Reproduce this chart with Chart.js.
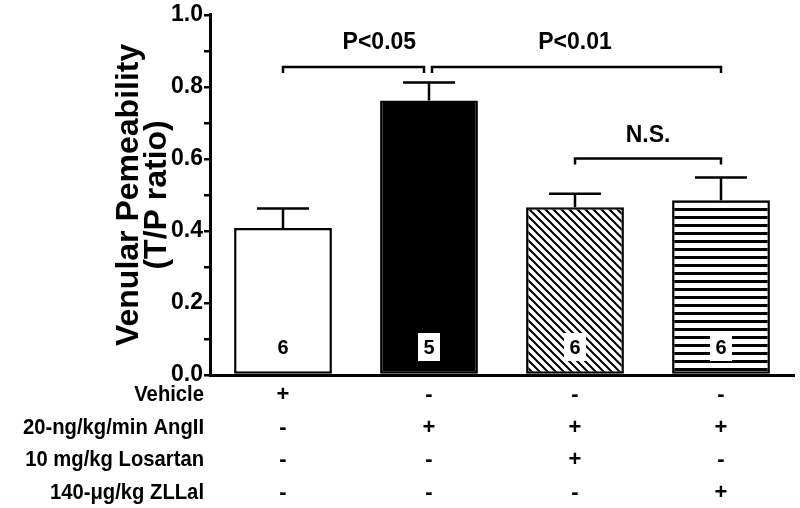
<!DOCTYPE html>
<html>
<head>
<meta charset="utf-8">
<script src="https://cdn.jsdelivr.net/npm/chart.js@4/dist/chart.umd.min.js"></script>
<style>
  html, body { margin: 0; padding: 0; background: #fff; }
  #wrap { width: 800px; height: 508px; }
</style>
</head>
<body>
<div id="wrap"><canvas id="myChart" width="800" height="508"></canvas></div>
<script>
// Dades llegides de la figura
const groups = ['Vehicle', 'AngII', 'AngII + Losartan', 'AngII + ZLLal'];
const means = [0.408, 0.762, 0.466, 0.485];
const sems = [0.054, 0.050, 0.037, 0.063];
const counts = ['6', '5', '6', '6'];

// Taula de tractaments sota l'eix
const rowLabels = ['Vehicle', '20-ng/kg/min AngII', '10 mg/kg Losartan', '140-\u03BCg/kg ZLLal'];
const rowMarks = [
    ['+', '-', '-', '-'],
    ['-', '+', '+', '+'],
    ['-', '-', '+', '-'],
    ['-', '-', '-', '+']
];

// Claudàtors de significació: des de, fins a, nivell
const bracketFrom = [0, 1, 2];
const bracketTo = [1, 3, 3];
const bracketLevel = [0.855, 0.855, 0.601];
// Textos de significació: text, posició (índex de categoria) i nivell
const sigText = ['P<0.05', 'P<0.01', 'N.S.'];
const sigPos = [0.66, 2.0, 2.5];
const sigLevel = [0.922, 0.922, 0.665];

const FONT = '"Liberation Sans", Arial, sans-serif';

// Patrons de farciment
const makeDiagonal = () => {
    const c = document.createElement('canvas');
    c.width = 8; c.height = 8;
    const g = c.getContext('2d');
    g.fillStyle = '#fff';
    g.fillRect(0, 0, 8, 8);
    g.strokeStyle = '#000';
    g.lineWidth = 2;
    g.beginPath();
    g.moveTo(-2, -2); g.lineTo(10, 10);
    g.moveTo(-2, 6); g.lineTo(2, 10);
    g.moveTo(6, -2); g.lineTo(10, 2);
    g.stroke();
    return g.createPattern(c, 'repeat');
};

const makeHorizontal = () => {
    const c = document.createElement('canvas');
    c.width = 8; c.height = 8;
    const g = c.getContext('2d');
    g.fillStyle = '#fff';
    g.fillRect(0, 0, 8, 8);
    g.fillStyle = '#000';
    g.fillRect(0, 0, 8, 3);
    return g.createPattern(c, 'repeat');
};

const fills = ['#ffffff', '#000000', makeDiagonal(), makeHorizontal()];

// Barres d'error (només cap amunt)
const errorBars = {
    id: 'errorBars',
    afterDatasetsDraw(chart) {
        const ctx = chart.ctx;
        const y = chart.scales.y;
        const meta = chart.getDatasetMeta(0);
        ctx.save();
        ctx.strokeStyle = '#000';
        ctx.lineWidth = 2.5;
        meta.data.forEach((bar, i) => {
            const top = y.getPixelForValue(means[i]);
            const end = y.getPixelForValue(means[i] + sems[i]);
            ctx.beginPath();
            ctx.moveTo(bar.x, top);
            ctx.lineTo(bar.x, end);
            ctx.moveTo(bar.x - 26, end);
            ctx.lineTo(bar.x + 26, end);
            ctx.stroke();
        });
        ctx.restore();
    }
};

// Nombre d'animals dins de cada barra
const countLabels = {
    id: 'countLabels',
    afterDatasetsDraw(chart) {
        const ctx = chart.ctx;
        const meta = chart.getDatasetMeta(0);
        const yPos = chart.chartArea.bottom - 28;
        ctx.save();
        ctx.font = 'bold 20px ' + FONT;
        ctx.textAlign = 'center';
        ctx.textBaseline = 'middle';
        meta.data.forEach((bar, i) => {
            ctx.fillStyle = '#fff';
            ctx.fillRect(bar.x - 11, yPos - 14, 22, 28);
            ctx.fillStyle = '#000';
            ctx.fillText(counts[i], bar.x, yPos + 1);
        });
        ctx.restore();
    }
};

// Claudàtors i textos de significació
const significance = {
    id: 'significance',
    afterDraw(chart) {
        const ctx = chart.ctx;
        const x = chart.scales.x;
        const y = chart.scales.y;
        ctx.save();
        ctx.strokeStyle = '#000';
        ctx.lineWidth = 2.5;
        bracketFrom.forEach((from, i) => {
            let x1 = x.getPixelForValue(from);
            let x2 = x.getPixelForValue(bracketTo[i]);
            // els dos claudàtors que comparteixen la barra 2 es deixen un petit espai
            if (i === 0) x2 -= 5;
            if (i === 1) x1 += 3;
            const yy = y.getPixelForValue(bracketLevel[i]);
            ctx.beginPath();
            ctx.moveTo(x1, yy + 6);
            ctx.lineTo(x1, yy);
            ctx.lineTo(x2, yy);
            ctx.lineTo(x2, yy + 6);
            ctx.stroke();
        });
        ctx.fillStyle = '#000';
        ctx.font = 'bold 23px ' + FONT;
        ctx.textAlign = 'center';
        ctx.textBaseline = 'middle';
        sigText.forEach((t, i) => {
            const px = x.getPixelForValue(0) + sigPos[i] * (x.getPixelForValue(1) - x.getPixelForValue(0));
            ctx.fillText(t, px, y.getPixelForValue(sigLevel[i]));
        });
        ctx.restore();
    }
};

// Taula de +/- sota l'eix X
const treatmentTable = {
    id: 'treatmentTable',
    afterDraw(chart) {
        const ctx = chart.ctx;
        const x = chart.scales.x;
        const base = chart.chartArea.bottom;
        ctx.save();
        ctx.fillStyle = '#000';
        ctx.font = 'bold 22px ' + FONT;
        ctx.textBaseline = 'middle';
        rowLabels.forEach((label, r) => {
            const yy = base + 20 + r * 32.5;
            // lletra una mica estreta, com a l'original
            ctx.save();
            ctx.translate(204, yy);
            ctx.scale(0.92, 1);
            ctx.textAlign = 'right';
            ctx.fillText(label, 0, 0);
            ctx.restore();
            ctx.textAlign = 'center';
            rowMarks[r].forEach((m, c) => {
                ctx.fillText(m, x.getPixelForValue(c), yy);
            });
        });
        ctx.restore();
    }
};

const ctx = document.getElementById('myChart').getContext('2d');
const chart = new Chart(ctx, {
    type: 'bar',
    data: {
        labels: groups,
        datasets: [{
            data: means,
            backgroundColor: fills,
            borderColor: '#000',
            borderWidth: 2.5,
            borderSkipped: false,
            categoryPercentage: 1.0,
            barPercentage: 0.67
        }]
    },
    options: {
        responsive: false,
        animation: false,
        events: [],
        layout: { padding: { top: 14, right: 6, bottom: 133, left: 0 } },
        plugins: {
            legend: { display: false },
            tooltip: { enabled: false }
        },
        scales: {
            x: {
                grid: { display: false, drawTicks: false },
                border: { display: true, color: '#000', width: 3 },
                ticks: { display: false }
            },
            y: {
                min: 0,
                max: 1.0,
                afterFit(scale) { scale.width = 210; },
                ticks: {
                    stepSize: 0.1,
                    color: '#000',
                    padding: 1,
                    font: { family: FONT, size: 23, weight: 'bold' },
                    callback: (v) => (Math.round(v * 10) % 2 === 0 ? v.toFixed(1) : '')
                },
                grid: {
                    drawOnChartArea: false,
                    drawTicks: true,
                    tickLength: 6,
                    color: '#000',
                    lineWidth: 2.5
                },
                border: { display: true, color: '#000', width: 3 },
                title: {
                    display: true,
                    text: ['Venular Pemeability', '(T/P ratio)'],
                    color: '#000',
                    font: { family: FONT, size: 32, weight: 'bold', lineHeight: 0.85 },
                    padding: { top: 116, bottom: 0 }
                }
            }
        }
    },
    plugins: [errorBars, countLabels, significance, treatmentTable]
});
</script>
</body>
</html>
